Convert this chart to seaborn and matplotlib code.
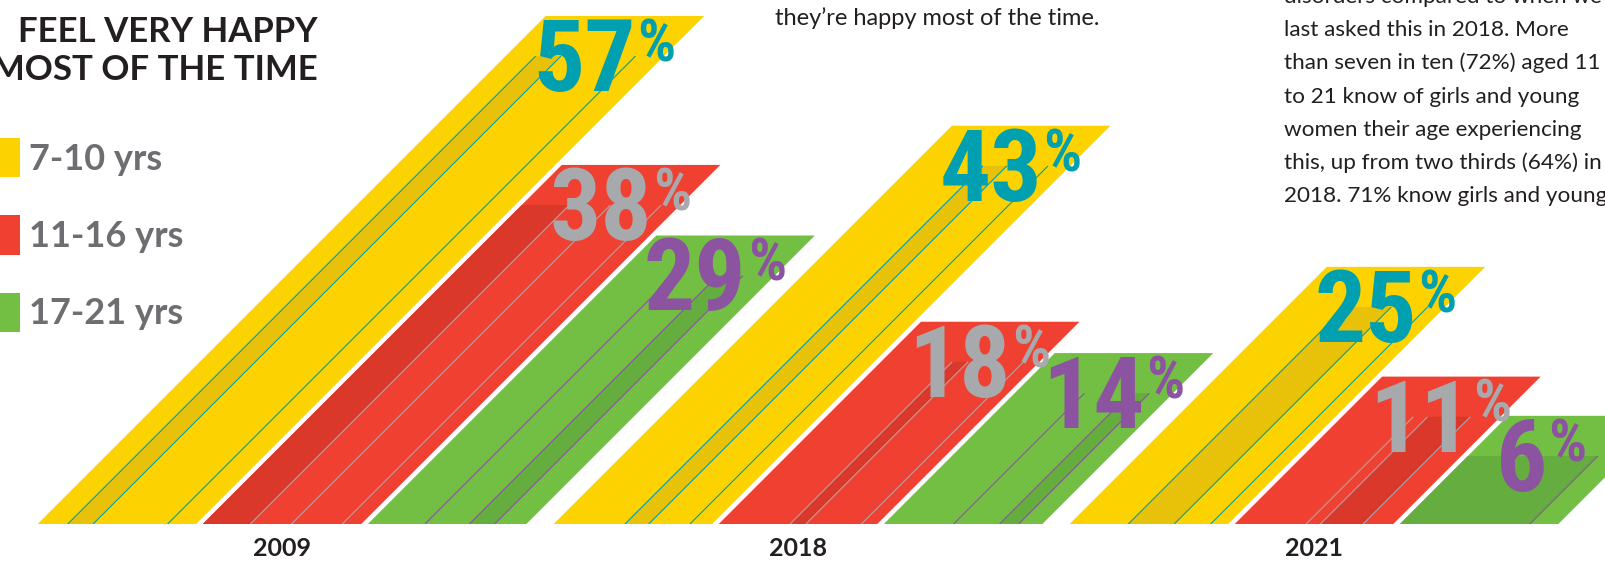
import matplotlib
matplotlib.use("Agg")
import matplotlib.pyplot as plt
import numpy as np
import pandas as pd
import seaborn as sns
from matplotlib import font_manager
from matplotlib.transforms import Affine2D

# ---------------------------------------------------------------------------
# Data
# ---------------------------------------------------------------------------
years = ["2009", "2018", "2021"]
age_groups = ["7-10 yrs", "11-16 yrs", "17-21 yrs"]
pct_7_10 = [57, 43, 25]
pct_11_16 = [38, 18, 11]
pct_17_21 = [29, 14, 6]

title_lines = ["FEEL VERY HAPPY", "MOST OF THE TIME"]
intro_tail = "they\u2019re happy most of the time."
side_text = [
    "disorders compared to when we",
    "last asked this in 2018. More",
    "than seven in ten (72%) aged 11",
    "to 21 know of girls and young",
    "women their age experiencing",
    "this, up from two thirds (64%) in",
    "2018. 71% know girls and young",
]

df = pd.DataFrame({
    "year": np.repeat(years, len(age_groups)),
    "age": age_groups * len(years),
    "pct": [v for trio in zip(pct_7_10, pct_11_16, pct_17_21) for v in trio],
})

# ---------------------------------------------------------------------------
# Style
# ---------------------------------------------------------------------------
bar_colors = ["#fcd300", "#ef4031", "#72bf44"]
shade_colors = ["#e8c209", "#d9382a", "#65ad3e"]
label_colors = ["#00a0b0", "#a7a9ac", "#8c53a1"]
text_dark = "#231f20"
legend_grey = "#6d6e71"

# extruded-digit decoration per bar: (shade start, shade end, line positions)
# as fractions of the bar width
extrusion = {
    (0, 0): (0.19, 0.35, [0.19, 0.35, 0.82]),
    (0, 1): (0.00, 0.30, [0.30, 0.56, 0.88]),
    (0, 2): (0.64, 0.80, [0.36, 0.64, 0.80]),
    (1, 0): (0.45, 0.60, [0.45, 0.60, 0.86]),
    (1, 1): (0.45, 0.55, [0.45, 0.55, 0.90]),
    (1, 2): (0.73, 0.85, [0.44, 0.73, 0.85]),
    (2, 0): (0.37, 0.66, [0.37, 0.66, 0.89]),
    (2, 1): (0.54, 0.81, [0.45, 0.54, 0.81]),
    (2, 2): (0.00, 0.82, [0.82]),
}

sns.set_theme(style="white")
installed = {f.name for f in font_manager.fontManager.ttflist}
num_font = "Open Sans"
for cand in ["Liberation Sans Narrow", "Roboto Condensed"]:
    if cand in installed:
        num_font = cand
        break
plt.rcParams["font.family"] = ["Lato", "DejaVu Sans"]

W, H = 1605, 562
base_px = 38            # baseline height above the bottom edge
px_per_pct = 7.84
y_base = -7.8           # bars start below zero (infographic offset)
first_center_px = 282
pitch_px = 516

fig = plt.figure(figsize=(W / 100, H / 100), dpi=100)
ax = fig.add_axes([0, base_px / H, 1, 1 - base_px / H])

sns.barplot(
    data=df, x="year", y="pct", hue="age", order=years, hue_order=age_groups,
    palette=bar_colors, saturation=1, width=0.96, gap=0.04, errorbar=None,
    linewidth=0, ax=ax,
)

ax.set_ylim(y_base, y_base + (H - base_px) / px_per_pct)
ax.set_xlim(-first_center_px / pitch_px, (W - first_center_px) / pitch_px)
sns.despine(ax=ax, left=True, bottom=True)
ax.set_yticks([])
ax.set_xlabel("")
ax.set_ylabel("")
ax.set_xticks(range(len(years)), labels=years, fontsize=18, fontweight="bold",
              color=text_dark)
ax.tick_params(axis="x", length=0, pad=9)

# 45 degree slant in pixel space, anchored on the baseline
yb = ax.transData.transform((0, y_base))[1]
slant = ax.transData + Affine2D().translate(0, -yb).skew_deg(45, 0).translate(0, yb)

digit_units = 73 / px_per_pct
for ai, cont in enumerate(ax.containers):
    for bar in cont:
        value = bar.get_height()
        x0, w = bar.get_x(), bar.get_width()
        yi = int(round(x0 + w / 2))
        bar.set_y(y_base)
        bar.set_height(value - y_base)
        bar.set_transform(slant)

        s0, s1, lines = extrusion[(yi, ai)]
        top = value - 0.55 * digit_units
        ax.add_patch(plt.Rectangle((x0 + s0 * w, y_base), (s1 - s0) * w, top - y_base,
                                   color=shade_colors[ai], lw=0, transform=slant, zorder=3))
        for f in lines:
            ax.plot([x0 + f * w] * 2, [y_base, top], color=label_colors[ai], lw=0.8,
                    transform=slant, zorder=4, solid_capstyle="butt")

        num = ax.annotate(
            f"{value:.0f}", xy=(x0, value), xycoords=slant,
            xytext=(-9, 0), textcoords="offset points", ha="left", va="top",
            fontsize=73, fontweight="bold", family=num_font,
            color=label_colors[ai], zorder=6,
        )
        ax.annotate(
            "%", xy=(1, 1), xycoords=num, xytext=(1, -1), textcoords="offset points",
            ha="left", va="top", fontsize=43, fontweight="bold", family=num_font,
            color=label_colors[ai], zorder=6,
        )

# legend (squares partly cut by the left edge)
sns.move_legend(
    ax, "upper left", bbox_to_anchor=(-16 / W, 1 - 138 / H),
    bbox_transform=fig.transFigure, title=None, frameon=False,
    prop={"family": "Lato", "weight": "bold", "size": 26},
    handlelength=1.0, handleheight=1.3, handletextpad=0.25,
    labelspacing=1.05, borderpad=0, borderaxespad=0,
)
for t in ax.get_legend().get_texts():
    t.set_color(legend_grey)

# headline and body copy
for i, line in enumerate(title_lines):
    fig.text(318 / W, 1 - (42 + 38 * i) / H, line, ha="right", va="baseline",
             fontsize=25, fontweight="bold", color=text_dark)
fig.text(775 / W, 1 - 25 / H, intro_tail, ha="left", va="baseline",
         fontsize=17, color=text_dark)
for i, line in enumerate(side_text):
    fig.text(1284 / W, 1 - (3 + 33.2 * i) / H, line, ha="left", va="baseline",
             fontsize=16.2, color=text_dark)

fig.savefig("out.png", dpi=100, facecolor="white")
